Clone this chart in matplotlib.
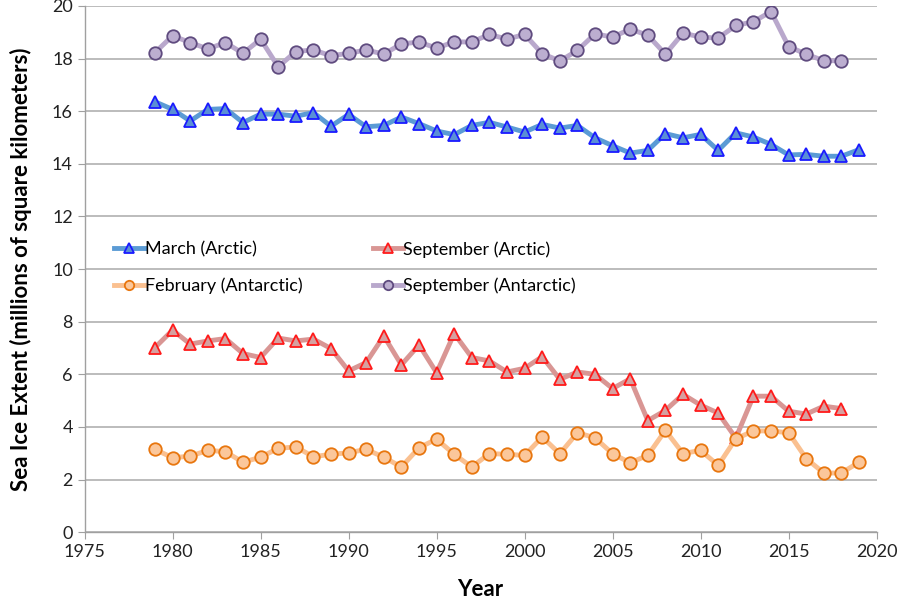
import matplotlib
matplotlib.use("Agg")
import matplotlib.pyplot as plt

years_mar = list(range(1979, 2020))
march_arctic = [16.36, 16.07, 15.63, 16.07, 16.10, 15.57, 15.89, 15.89, 15.81, 15.95,
                15.43, 15.88, 15.41, 15.46, 15.78, 15.53, 15.25, 15.11, 15.46, 15.58,
                15.40, 15.21, 15.50, 15.36, 15.46, 14.99, 14.69, 14.41, 14.51, 15.15,
                14.99, 15.12, 14.51, 15.18, 15.02, 14.74, 14.34, 14.36, 14.29, 14.29,
                14.54]

years_sep = list(range(1979, 2019))
september_arctic = [7.02, 7.68, 7.15, 7.27, 7.36, 6.79, 6.64, 7.38, 7.27, 7.34,
                    6.98, 6.13, 6.45, 7.46, 6.36, 7.12, 6.06, 7.55, 6.64, 6.51,
                    6.09, 6.23, 6.67, 5.81, 6.09, 6.00, 5.46, 5.83, 4.24, 4.63,
                    5.24, 4.83, 4.53, 3.58, 5.17, 5.17, 4.60, 4.49, 4.79, 4.70]

years_feb = list(range(1979, 2020))
february_antarctic = [3.15, 2.83, 2.89, 3.11, 3.06, 2.66, 2.85, 3.19, 3.24, 2.87,
                      2.96, 3.02, 3.15, 2.85, 2.48, 3.21, 3.54, 2.96, 2.48, 2.99,
                      2.96, 2.92, 3.62, 2.98, 3.78, 3.59, 2.98, 2.64, 2.92, 3.87,
                      2.99, 3.11, 2.54, 3.55, 3.85, 3.85, 3.78, 2.80, 2.25, 2.25,
                      2.66]

years_sepa = list(range(1979, 2019))
september_antarctic = [18.23, 18.87, 18.61, 18.37, 18.61, 18.20, 18.74, 17.69, 18.27, 18.33,
                       18.11, 18.20, 18.33, 18.17, 18.56, 18.63, 18.40, 18.64, 18.63, 18.92,
                       18.74, 18.92, 18.19, 17.91, 18.31, 18.94, 18.82, 19.12, 18.89, 18.17,
                       18.97, 18.82, 18.78, 19.26, 19.40, 19.79, 18.46, 18.17, 17.92, 17.92]

x_ticks = [1975, 1980, 1985, 1990, 1995, 2000, 2005, 2010, 2015, 2020]
y_ticks = [0, 2, 4, 6, 8, 10, 12, 14, 16, 18, 20]

plt.rcParams['font.family'] = ['Lato', 'DejaVu Sans']

fig = plt.figure(figsize=(9, 6), dpi=100)
ax = fig.add_axes([0.094, 0.113, 0.880, 0.877])

lw = 3.5
ms = 9
h1, = ax.plot(years_mar, march_arctic, color='#5b9bd5', lw=lw, marker='^', ms=ms,
              mfc='#5a8fd6', mec='#1a1aff', mew=1.3, label='March (Arctic)', zorder=3)
h2, = ax.plot(years_sep, september_arctic, color='#d99694', lw=lw, marker='^', ms=ms,
              mfc='#d6a0a0', mec='#ff1a1a', mew=1.3, label='September (Arctic)', zorder=3)
h3, = ax.plot(years_feb, february_antarctic, color='#fac090', lw=lw, marker='o', ms=ms,
              mfc='#fbc79b', mec='#e8760e', mew=1.3, label='February (Antarctic)', zorder=3)
h4, = ax.plot(years_sepa, september_antarctic, color='#b9a8cc', lw=lw, marker='o', ms=ms,
              mfc='#bcaed0', mec='#5f4b7f', mew=1.3, label='September (Antarctic)', zorder=3)

ax.set_xlim(1975, 2020)
ax.set_ylim(0, 20)
ax.set_xticks(x_ticks)
ax.set_yticks(y_ticks)
ax.tick_params(axis='both', labelsize=13, colors='#222222', length=5, color='#a0a0a0')
ax.yaxis.grid(True, color='#b0b0b0', lw=1.2)
ax.set_axisbelow(True)
for s in ['top', 'right']:
    ax.spines[s].set_visible(False)
for s in ['left', 'bottom']:
    ax.spines[s].set_color('#a0a0a0')
    ax.spines[s].set_linewidth(1.0)

ax.set_xlabel('Year', fontsize=16, fontweight='bold', labelpad=14)
ax.set_ylabel('Sea Ice Extent (millions of square kilometers)', fontsize=16,
              fontweight='bold', labelpad=14)

leg = ax.legend([h1, h3, h2, h4], [h.get_label() for h in (h1, h3, h2, h4)],
                ncol=2, frameon=False, loc='center left', bbox_to_anchor=(0.037, 0.503),
                borderaxespad=0, borderpad=0,
                fontsize=13, handlelength=1.7, handletextpad=0.0, columnspacing=3.9,
                labelspacing=1.1, markerscale=0.75)

fig.savefig('out.png', dpi=100)
